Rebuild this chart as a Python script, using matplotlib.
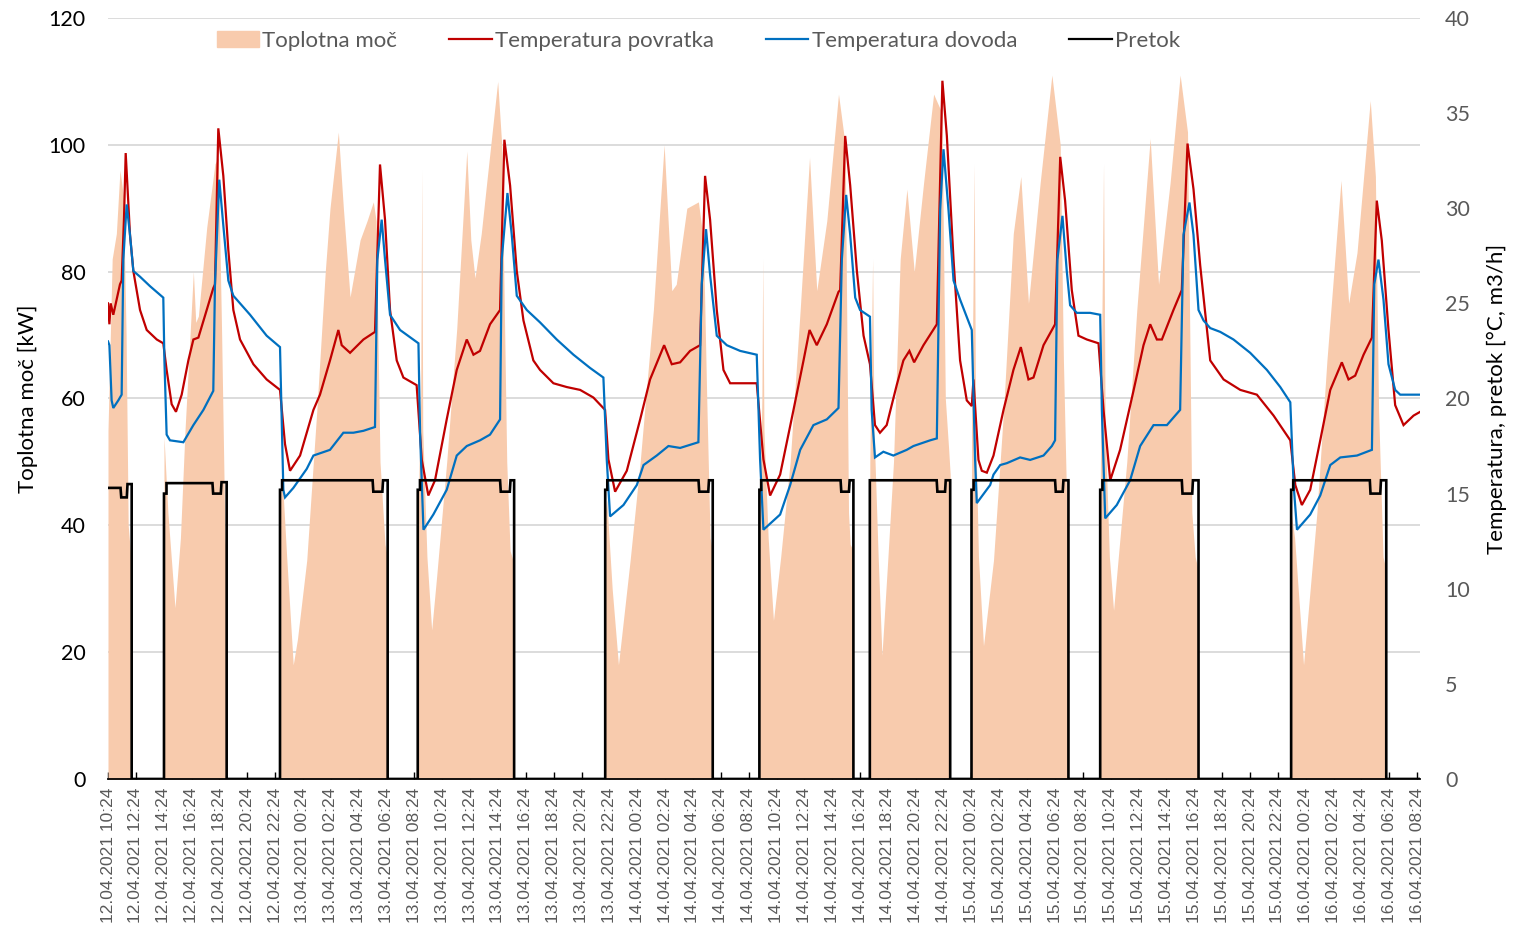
import numpy as np
import pandas as pd
import matplotlib
matplotlib.use("Agg")
import matplotlib.pyplot as plt
from matplotlib.patches import Patch
from matplotlib.lines import Line2D

plt.rcParams['font.family'] = ['Lato', 'DejaVu Sans']

# ---- data: hours after 12.04.2021 10:24 -------------------------------
# heat power [kW] (area, left axis)
heat = [
    (0, 55), (0.08, 62), (0.3, 82), (0.6, 86), (0.86, 96), (1.1, 92), (1.3, 70), (1.45, 40), (1.6, 36), (1.7, 30), (1.72, 0),
    (4.0, 0), (4.02, 54), (4.3, 42), (4.81, 27), (5.2, 38), (5.53, 55), (5.89, 70), (6.13, 80), (6.3, 72), (6.49, 73),
    (7.09, 87), (7.68, 97), (7.92, 98), (8.16, 70), (8.4, 38), (8.5, 35), (8.54, 0),
    (12.33, 0), (12.35, 45), (12.5, 48), (12.83, 35), (13.3, 18), (13.6, 22), (14.27, 34.5), (14.99, 58), (15.6, 80),
    (15.94, 90), (16.54, 102), (16.9, 90), (17.38, 76), (17.7, 80), (18.1, 85), (18.6, 88), (19.05, 91), (19.25, 88),
    (19.53, 50), (19.89, 37), (20.06, 35), (20.08, 0),
    (22.22, 0), (22.24, 40), (22.45, 60), (22.53, 96), (22.6, 55), (22.9, 35), (23.24, 23.5), (23.6, 32), (24.32, 50),
    (25.04, 71), (25.76, 99), (26.05, 85), (26.35, 79), (26.8, 86), (27.19, 94), (27.98, 110), (28.27, 100),
    (28.63, 50), (28.87, 36), (29.14, 34), (29.16, 0),
    (35.68, 0), (35.7, 42), (35.81, 44), (36.2, 30), (36.65, 18), (37.49, 34.5), (38.21, 50), (39.16, 74), (39.93, 100),
    (40.48, 77), (40.8, 78), (41.56, 90), (42.39, 91), (42.75, 85), (42.99, 60), (43.23, 38), (43.4, 36), (43.42, 0),
    (46.75, 0), (46.77, 40), (46.95, 60), (47.01, 82), (47.1, 55), (47.4, 38), (47.78, 25), (48.3, 35), (48.98, 50),
    (49.7, 74), (50.37, 98), (50.89, 77), (51.61, 88), (52.45, 108), (52.93, 100), (53.17, 42), (53.29, 37),
    (53.5, 36), (53.52, 0),
    (54.68, 0), (54.7, 50), (54.9, 82), (55.0, 55), (55.3, 35), (55.57, 19.5), (56.0, 35), (56.4, 50), (56.88, 82),
    (57.36, 93), (57.89, 80), (58.56, 94), (59.28, 108), (59.88, 105), (60.12, 60), (60.36, 52), (60.47, 48), (60.49, 0),
    (61.98, 0), (62.0, 55), (62.1, 75), (62.19, 97), (62.3, 55), (62.5, 35), (62.86, 21), (63.58, 34.5), (64.3, 58),
    (65.0, 86), (65.54, 95), (66.09, 75), (66.93, 94), (67.77, 111), (68.37, 100), (68.6, 66), (68.85, 42),
    (68.94, 40), (68.96, 0),
    (71.22, 0), (71.24, 45), (71.35, 70), (71.48, 97), (71.6, 55), (71.9, 35), (72.2, 26.6), (73.15, 50), (73.87, 74),
    (74.83, 101), (75.43, 78), (76.26, 94), (76.98, 111), (77.51, 102), (77.82, 42), (78.06, 35), (78.28, 33), (78.3, 0),
    (84.93, 0), (84.95, 42), (85.2, 38), (85.84, 18), (86.8, 42), (87.52, 66), (88.53, 94.4), (89.08, 75), (89.68, 83),
    (90.63, 107), (91.0, 95), (91.23, 58), (91.55, 35), (91.76, 33), (91.78, 0),
    (94.2, 0),
]

# return temperature [°C] (right axis)
t_return = [
    (0, 25.0), (0.1, 23.9), (0.19, 25.0), (0.38, 24.4), (0.86, 26.0), (0.98, 26.2), (1.15, 29.5), (1.27, 32.9),
    (1.58, 28.6), (1.82, 26.7), (2.3, 24.65), (2.78, 23.6), (3.5, 23.1), (3.97, 22.9), (4.21, 21.5), (4.57, 19.7),
    (4.88, 19.3), (5.29, 20.2), (5.77, 22.0), (6.13, 23.1), (6.49, 23.2), (7.09, 24.65), (7.56, 25.8), (7.68, 26.0),
    (7.92, 34.2), (8.28, 31.7), (8.64, 27.8), (9.0, 24.65), (9.48, 23.1), (10.44, 21.8), (11.39, 21.0), (12.35, 20.45),
    (12.71, 17.6), (13.07, 16.2), (13.79, 17.0), (14.75, 19.4), (15.22, 20.2), (15.94, 22.0), (16.54, 23.6),
    (16.78, 22.8), (17.38, 22.4), (18.34, 23.1), (19.17, 23.5), (19.53, 32.3), (19.89, 29.4), (20.25, 24.65),
    (20.73, 22.0), (21.21, 21.1), (22.16, 20.7), (22.53, 16.77), (23.0, 14.9), (23.48, 15.7), (24.32, 18.9),
    (25.04, 21.5), (25.76, 23.1), (26.24, 22.3), (26.71, 22.5), (27.43, 23.9), (28.15, 24.65), (28.46, 33.6),
    (28.87, 31.2), (29.35, 26.7), (29.83, 24.1), (30.54, 22.0), (31.02, 21.5), (31.98, 20.8), (32.94, 20.6),
    (33.9, 20.45), (34.85, 20.05), (35.69, 19.4), (35.93, 16.8), (36.41, 15.1), (37.25, 16.2), (38.21, 18.9),
    (38.92, 21.0), (39.93, 22.8), (40.48, 21.8), (41.08, 21.9), (41.79, 22.5), (42.51, 22.8), (42.87, 31.7),
    (43.23, 29.4), (43.71, 24.65), (44.19, 21.5), (44.67, 20.8), (45.39, 20.8), (46.58, 20.8), (47.06, 16.8),
    (47.54, 14.9), (48.26, 16.0), (49.22, 19.4), (49.94, 22.0), (50.37, 23.6), (50.89, 22.8), (51.61, 23.9),
    (52.45, 25.6), (52.57, 25.7), (52.93, 33.8), (53.29, 31.2), (53.77, 26.7), (54.25, 23.3), (54.71, 21.8),
    (55.07, 18.6), (55.43, 18.2), (55.91, 18.6), (56.63, 20.7), (57.11, 22.0), (57.54, 22.5), (57.88, 21.9),
    (58.55, 22.8), (59.51, 23.9), (59.91, 36.7), (60.23, 33.8), (60.71, 27.3), (61.18, 22.0), (61.66, 19.9),
    (62.02, 19.6), (62.14, 21.0), (62.5, 16.77), (62.74, 16.2), (63.1, 16.1), (63.58, 17.0), (64.3, 19.4),
    (65.01, 21.5), (65.54, 22.7), (66.09, 21.0), (66.45, 21.1), (67.17, 22.8), (68.0, 23.9), (68.37, 32.7),
    (68.72, 30.4), (69.2, 25.7), (69.68, 23.3), (70.28, 23.1), (71.12, 22.9), (71.48, 19.4), (71.96, 15.7),
    (72.67, 17.3), (73.63, 20.4), (74.35, 22.8), (74.83, 23.9), (75.31, 23.1), (75.67, 23.1), (76.5, 24.65),
    (77.1, 25.7), (77.51, 33.4), (77.94, 31.0), (78.42, 27.0), (79.14, 22.0), (80.1, 21.0), (81.3, 20.45),
    (82.49, 20.2), (83.69, 19.1), (84.89, 17.8), (85.25, 15.45), (85.72, 14.4), (86.32, 15.2), (87.04, 17.8),
    (87.76, 20.45), (88.59, 21.9), (89.07, 21.0), (89.55, 21.2), (90.15, 22.3), (90.75, 23.2), (91.1, 30.4),
    (91.46, 28.3), (91.94, 23.6), (92.42, 19.65), (93.02, 18.6), (93.74, 19.1), (94.22, 19.3),
]

# supply temperature [°C] (right axis)
t_supply = [
    (0, 23.0), (0.1, 22.8), (0.26, 19.9), (0.38, 19.5), (0.74, 19.9), (0.98, 20.2), (1.1, 27.3), (1.34, 30.2),
    (1.58, 28.6), (1.82, 26.7), (2.3, 26.4), (3.02, 25.9), (3.97, 25.3), (4.05, 22.0), (4.21, 18.1), (4.45, 17.8),
    (5.41, 17.7), (6.13, 18.6), (6.85, 19.4), (7.56, 20.4), (7.68, 26.0), (7.99, 31.5), (8.28, 29.1), (8.64, 26.2),
    (9.0, 25.4), (10.2, 24.4), (11.39, 23.3), (12.35, 22.7), (12.59, 15.2), (12.71, 14.8), (13.31, 15.3),
    (14.27, 16.3), (14.75, 17.0), (15.94, 17.3), (16.9, 18.2), (17.62, 18.2), (18.34, 18.3), (19.17, 18.5),
    (19.34, 27.3), (19.65, 29.4), (19.89, 27.3), (20.25, 24.4), (20.97, 23.6), (22.29, 22.9), (22.41, 18.1),
    (22.65, 13.1), (23.36, 13.9), (24.32, 15.2), (25.04, 17.0), (25.76, 17.5), (26.71, 17.8), (27.43, 18.1),
    (28.15, 18.9), (28.27, 27.3), (28.68, 30.8), (28.99, 28.6), (29.35, 25.4), (30.07, 24.65), (31.02, 24.0),
    (32.22, 23.1), (33.42, 22.3), (34.62, 21.6), (35.57, 21.1), (35.81, 16.8), (36.05, 13.8), (37.01, 14.4),
    (37.97, 15.45), (38.45, 16.5), (39.4, 17.0), (40.24, 17.5), (41.08, 17.4), (42.39, 17.7), (42.63, 26.0),
    (42.94, 28.9), (43.23, 26.5), (43.71, 23.3), (44.43, 22.8), (45.39, 22.5), (46.58, 22.3), (46.82, 16.8),
    (47.06, 13.1), (48.26, 13.9), (48.98, 15.45), (49.7, 17.3), (50.65, 18.6), (51.61, 18.9), (52.45, 19.5),
    (52.69, 27.3), (53.0, 30.7), (53.29, 28.6), (53.65, 25.3), (54.0, 24.65), (54.71, 24.3), (54.83, 19.4),
    (55.07, 16.9), (55.67, 17.2), (56.39, 17.0), (57.35, 17.3), (57.83, 17.5), (59.03, 17.8), (59.51, 17.9),
    (59.75, 29.9), (59.99, 33.1), (60.35, 29.9), (60.71, 26.2), (61.18, 25.2), (62.02, 23.6), (62.26, 16.77),
    (62.38, 14.5), (63.34, 15.45), (63.58, 16.0), (64.06, 16.5), (64.54, 16.6), (65.49, 16.9), (66.21, 16.77),
    (67.17, 17.0), (67.77, 17.5), (68.0, 17.8), (68.17, 27.3), (68.53, 29.6), (68.84, 26.7), (69.08, 24.9),
    (69.56, 24.5), (70.52, 24.5), (71.24, 24.4), (71.36, 19.4), (71.6, 13.7), (72.43, 14.4), (73.39, 15.7),
    (74.11, 17.5), (75.07, 18.6), (76.03, 18.6), (76.98, 19.4), (77.22, 28.6), (77.65, 30.3), (77.94, 28.6),
    (78.3, 24.65), (78.66, 24.1), (79.14, 23.7), (79.86, 23.5), (80.81, 23.1), (82.01, 22.4), (83.21, 21.5),
    (84.17, 20.6), (84.89, 19.8), (85.13, 15.45), (85.37, 13.1), (86.32, 13.9), (87.04, 14.9), (87.76, 16.5),
    (88.48, 16.9), (89.68, 17.0), (90.75, 17.3), (90.92, 26.0), (91.22, 27.3), (91.58, 25.2), (91.94, 21.8),
    (92.42, 20.45), (92.78, 20.2), (94.22, 20.2),
]

# flow [m3/h] (right axis)
flow = [
    (0, 15.3), (0.9, 15.3), (0.95, 14.8), (1.35, 14.8), (1.4, 15.5), (1.7, 15.5), (1.7, 0),
    (4.02, 0), (4.02, 15.0), (4.2, 15.0), (4.2, 15.55), (7.5, 15.55), (7.55, 15.0), (8.1, 15.0), (8.15, 15.6), (8.52, 15.6), (8.52, 0),
    (12.35, 0), (12.35, 15.2), (12.5, 15.2), (12.5, 15.7), (19.0, 15.7), (19.05, 15.1), (19.7, 15.1), (19.75, 15.7), (20.08, 15.7), (20.08, 0),
    (22.24, 0), (22.24, 15.2), (22.4, 15.2), (22.4, 15.7), (28.15, 15.7), (28.2, 15.1), (28.85, 15.1), (28.9, 15.7), (29.16, 15.7), (29.16, 0),
    (35.7, 0), (35.7, 15.2), (35.85, 15.2), (35.85, 15.7), (42.4, 15.7), (42.45, 15.1), (43.1, 15.1), (43.15, 15.7), (43.42, 15.7), (43.42, 0),
    (46.77, 0), (46.77, 15.2), (46.9, 15.2), (46.9, 15.7), (52.6, 15.7), (52.65, 15.1), (53.2, 15.1), (53.25, 15.7), (53.52, 15.7), (53.52, 0),
    (54.7, 0), (54.7, 15.7), (59.5, 15.7), (59.55, 15.1), (60.1, 15.1), (60.15, 15.7), (60.47, 15.7), (60.47, 0),
    (62.0, 0), (62.0, 15.2), (62.15, 15.2), (62.15, 15.7), (68.0, 15.7), (68.05, 15.1), (68.55, 15.1), (68.6, 15.7), (68.96, 15.7), (68.96, 0),
    (71.24, 0), (71.24, 15.2), (71.4, 15.2), (71.4, 15.7), (77.1, 15.7), (77.15, 15.0), (77.85, 15.0), (77.9, 15.7), (78.3, 15.7), (78.3, 0),
    (84.95, 0), (84.95, 15.2), (85.1, 15.2), (85.1, 15.7), (90.6, 15.7), (90.65, 15.0), (91.35, 15.0), (91.4, 15.7), (91.78, 15.7), (91.78, 0),
    (94.2, 0),
]

tick_hours = np.arange(0, 95, 2)
tick_labels = pd.date_range('2021-04-12 10:24', periods=len(tick_hours), freq='2h').strftime('%d.%m.%Y %H:%M')

series_names = ['Toplotna moč', 'Temperatura povratka', 'Temperatura dovoda', 'Pretok']
c_heat = '#F8CBAD'
c_ret = '#C00000'
c_sup = '#0070C0'
c_flow = '#000000'
grey = '#595959'

fig = plt.figure(figsize=(15.19, 9.27), dpi=100)
ax = fig.add_axes([0.0711, 0.1597, 0.8637, 0.8209])
ax2 = ax.twinx()

h_t, h_v = zip(*heat)
ax.fill_between(h_t, h_v, 0, color=c_heat, lw=0)
ax.set_ylim(0, 120)
ax.set_yticks(range(0, 121, 20))
ax.set_xlim(0, 94.2)
ax.grid(axis='y', color='#D9D9D9', lw=1.3)
ax.set_axisbelow(True)

for pts, col, lw in [(t_return, c_ret, 1.6), (t_supply, c_sup, 1.6), (flow, c_flow, 1.9)]:
    xs, ys = zip(*pts)
    ax2.plot(xs, ys, color=col, lw=lw, solid_joinstyle='miter')
ax2.set_ylim(0, 40)
ax2.set_yticks(range(0, 41, 5))

ax.set_xticks(tick_hours)
ax.set_xticklabels(tick_labels, rotation=90, fontsize=12.5, color=grey, family=['Liberation Sans'])
ax.tick_params(axis='x', direction='in', length=5, width=1, color='black', pad=6)
ax.tick_params(axis='y', length=0, labelsize=15.5, labelcolor='black', pad=16)
ax2.tick_params(axis='y', length=0, labelsize=15.5, labelcolor=grey, pad=18)

for a in (ax, ax2):
    for s in ('top', 'left', 'right'):
        a.spines[s].set_visible(False)
ax.spines['bottom'].set_color('black')
ax.spines['bottom'].set_linewidth(1.3)
ax2.spines['bottom'].set_visible(False)

ax.set_ylabel('Toplotna moč [kW]', fontsize=16, labelpad=8)
ax2.set_ylabel('Temperatura, pretok [°C, m3/h]', fontsize=16, labelpad=12)

handles = [Patch(color=c_heat),
           Line2D([], [], color=c_ret, lw=1.6),
           Line2D([], [], color=c_sup, lw=1.6),
           Line2D([], [], color=c_flow, lw=1.6)]
leg = ax2.legend(handles, series_names, loc='center', bbox_to_anchor=(0.45, 0.970), ncol=4, frameon=False,
                 fontsize=16, handlelength=1.9, handletextpad=0.15, columnspacing=2.35, borderaxespad=0)
for txt in leg.get_texts():
    txt.set_color(grey)

fig.savefig('out.png', dpi=100)
